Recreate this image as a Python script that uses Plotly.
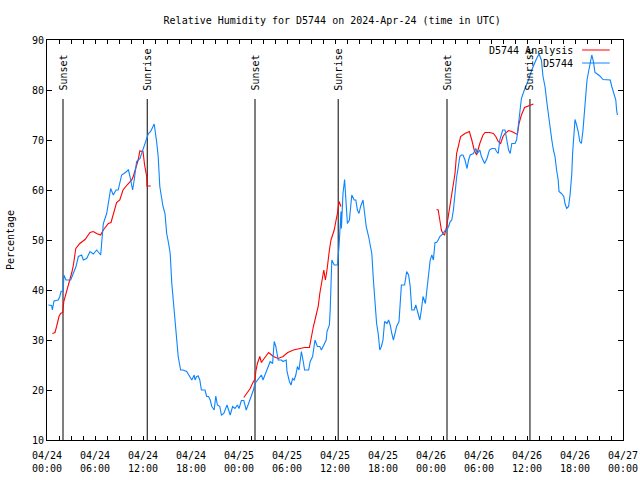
import plotly.graph_objects as go

# ---------------- data ----------------
# hours since 2024-04-24 00:00 UTC
obs_hours = [0.17, 0.58, 0.67, 0.875, 1.4, 1.6, 1.75, 2.04, 2.1, 2.375, 2.96, 3.3, 3.625, 3.92, 4.33, 4.54,
             4.96, 5.375, 5.79, 6.21, 6.54, 6.71, 6.83, 7.04, 7.46, 7.96, 8.29, 8.625, 8.9, 9.33, 9.96, 10.17,
             10.375, 10.7, 10.9, 11.2, 11.625, 12.0, 12.46, 12.67, 12.96, 13.4, 13.7, 13.9, 14.1, 14.3, 14.5,
             14.75, 14.96, 15.2, 15.4, 15.6, 15.8, 16.0, 16.2, 16.4, 16.7, 17.0, 17.46, 17.9, 18.1, 18.4, 18.5,
             18.7, 18.9, 19.1, 19.3, 19.75, 19.96, 20.2, 20.4, 20.6, 20.9, 21.1, 21.3, 21.6, 21.8, 22.1, 22.5,
             22.9, 23.2, 23.5, 23.8, 24.0, 24.3, 24.6, 24.9, 25.2, 25.4, 25.6, 25.8, 26.0, 26.2, 26.6, 26.8,
             27.0, 27.5, 27.9, 28.2, 28.4, 28.6, 28.9, 29.3, 29.5, 29.9, 30.0, 30.3, 30.5, 30.7, 30.9, 31.1,
             31.3, 31.5, 31.8, 32.0, 32.2, 32.7, 32.9, 33.2, 33.5, 33.8, 34.1, 34.3, 34.6, 34.9, 35.0, 35.3,
             35.4, 35.5, 35.6, 35.9, 36.3, 36.5, 36.6, 36.75, 36.8, 37.0, 37.2, 37.5, 37.55, 37.8, 38.1, 38.4,
             38.6, 38.8, 39.0, 39.2, 39.5, 39.6, 39.9, 40.2, 40.4, 40.6, 40.8, 41.0, 41.2, 41.4, 41.6, 41.8,
             42.0, 42.2, 42.5, 42.7, 42.9, 43.1, 43.3, 43.5, 43.7, 44.0, 44.2, 44.3, 44.7, 44.96, 45.2, 45.4,
             45.6, 45.9, 46.1, 46.4, 46.6, 46.8, 47.0, 47.3, 47.5, 47.7, 47.9, 48.1, 48.3, 48.5, 48.7, 48.9,
             49.1, 49.5, 49.7, 49.96, 50.2, 50.4, 50.6, 50.8, 51.0, 51.2, 51.4, 51.6, 51.8, 52.0, 52.25, 52.5,
             52.7, 52.9, 53.3, 53.6, 53.8, 54.1, 54.3, 54.5, 54.7, 55.0, 55.3, 55.6, 56.0, 56.2, 56.4, 56.6,
             56.96, 57.25, 57.5, 57.7, 57.9, 58.1, 58.5, 58.7, 58.9, 59.1, 59.3, 59.6, 59.96, 60.25, 60.6, 60.9,
             61.2, 61.5, 61.8, 62.0, 62.25, 62.5, 62.7, 62.9, 63.1, 63.3, 63.5, 63.7, 63.9, 64.0, 64.3, 64.6,
             64.75, 64.96, 65.2, 65.4, 65.6, 65.7, 65.9, 66.0, 66.2, 66.4, 66.6, 66.8, 67.0, 67.2, 67.5, 67.7,
             67.9, 68.1, 68.3, 68.5, 68.7, 69.1, 69.5, 70.4, 70.6, 70.9, 71.1, 71.2, 71.3]
obs_rh = [37.0, 36.9, 36.0, 37.8, 38.0, 38.7, 39.7, 39.8, 43.0, 42.0, 42.0, 43.3, 44.7, 46.7, 47.0, 46.0,
          46.3, 47.7, 47.2, 48.0, 47.3, 47.0, 49.3, 53.3, 55.3, 60.3, 59.0, 60.0, 60.0, 63.0, 63.7, 64.1,
          62.7, 60.0, 62.0, 65.7, 66.3, 68.0, 70.0, 71.3, 71.7, 73.2, 69.7, 66.7, 60.7, 58.7, 56.7,
          55.3, 51.3, 49.3, 47.3, 41.3, 38.0, 34.0, 30.7, 26.7, 24.0, 24.0, 23.7, 22.7, 22.0, 23.0, 22.0,
          22.7, 22.8, 22.0, 20.0, 20.0, 18.7, 18.7, 18.0, 16.7, 16.0, 18.8, 17.0, 16.7, 15.0, 15.3, 17.0,
          15.0, 16.7, 16.3, 17.0, 16.3, 17.9, 17.9, 16.0, 17.3, 18.1, 19.3, 20.0, 21.3, 21.7, 22.5, 23.0,
          22.0, 24.0, 25.7, 25.3, 29.7, 28.7, 26.0, 26.0, 25.7, 26.0, 23.7, 21.7, 21.0, 22.3, 22.0, 23.0,
          24.7, 24.0, 27.7, 26.0, 24.0, 24.0, 25.7, 26.7, 30.0, 28.7, 28.7, 28.0, 29.0, 30.0, 31.7, 33.0,
          36.0, 40.7, 46.0, 45.0, 45.0, 48.7, 53.0, 55.7, 52.3, 59.3, 62.1, 56.0, 53.3, 54.0, 59.0, 58.0,
          58.0, 56.0, 55.3, 56.7, 58.0, 56.7, 52.7, 50.7, 48.7, 47.3, 42.0, 38.0, 33.3, 31.3, 28.0, 28.7,
          30.0, 33.7, 33.3, 34.0, 33.0, 31.3, 30.0, 31.3, 32.7, 33.7, 39.3, 41.0, 41.0, 43.7, 43.0, 40.7,
          36.0, 36.0, 37.0, 35.3, 34.0, 36.0, 38.7, 37.3, 40.3, 44.0, 46.0, 47.0, 46.0, 49.5, 49.5, 50.0,
          50.7, 51.2, 51.8, 52.0, 52.7, 53.7, 54.0, 56.0, 59.5, 62.5, 64.5, 66.7, 67.0, 67.0, 66.0, 64.3,
          66.0, 67.0, 67.3, 68.3, 67.3, 68.0, 66.7, 66.0, 65.3, 66.3, 68.0, 68.3, 68.3, 67.7, 67.3, 70.0,
          72.0, 72.0, 70.0, 68.0, 67.3, 69.3, 69.3, 70.0, 72.7, 76.0, 78.3, 79.7, 81.0, 82.3, 84.0, 85.3,
          86.3, 87.2, 86.0, 82.7, 80.7, 77.3, 74.7, 71.7, 70.0, 68.0, 66.7, 64.0, 62.0, 59.7, 59.3, 58.7,
          57.3, 56.3, 56.7, 59.3, 63.3, 67.3, 73.0, 74.1, 73.0, 71.7, 69.7, 69.3, 72.0, 76.7, 82.0, 83.7,
          85.3, 87.0, 85.7, 83.5, 83.3, 82.8, 82.1, 82.0, 80.7, 79.0, 78.0, 76.0, 75.0]

# analysis series (None = gap between daily runs)
ana_hours = [0.67, 1.0, 1.2, 1.5, 1.7, 1.96, 2.1, 2.4, 2.7, 2.9, 3.1, 3.3, 3.6, 4.1, 4.75, 5.375, 5.79,
             6.2, 6.7, 7.04, 7.67, 8.0, 8.3, 8.7, 9.1, 9.5, 10.0, 10.6, 10.8, 11.2, 11.4, 11.6, 12.0, 12.2,
             12.46, 12.5, 12.96, None,
             24.6, 24.96, 25.4, 25.8, 26.0, 26.1, 26.3, 26.6, 26.8, 27.1, 27.7, 28.3, 28.9, 29.5, 30.1, 30.8,
             31.6, 32.2, 32.8, 32.96, 33.3, 33.6, 33.9, 34.1, 34.5, 34.6, 34.8, 35.0, 35.3, 35.5, 35.7, 35.9,
             36.1, 36.3, 36.5, 36.75, None,
             48.7, 48.9, 49.1, 49.3, 49.5, 49.7, 49.96, 50.2, 50.4, 50.6, 50.8, 51.0, 51.2, 51.4, 51.7, 52.25,
             52.8, 53.1, 53.4, 53.7, 53.9, 54.1, 54.5, 54.75, 55.3, 55.8, 56.1, 56.4, 56.7, 57.0, 57.25, 57.7,
             58.1, 58.5, 58.8, 59.0, 59.3, 59.7, 59.96, 60.4, 60.8]
ana_rh = [31.3, 31.5, 32.7, 34.7, 35.3, 35.5, 37.7, 39.3, 41.0, 42.3, 43.5, 45.0, 48.3, 49.3, 50.1, 51.5, 51.7,
          51.3, 51.0, 52.0, 53.3, 53.5, 55.3, 57.5, 58.0, 60.0, 61.0, 62.0, 62.8, 65.0, 66.0, 67.8, 67.7, 65.0,
          62.7, 60.8, 60.8, None,
          18.5, 19.3, 20.3, 21.7, 22.0, 23.7, 25.3, 26.7, 25.5, 26.2, 27.5, 26.7, 26.3, 26.7, 27.5, 28.0,
          28.3, 28.5, 28.5, 30.0, 32.7, 34.7, 36.7, 39.3, 43.0, 44.0, 42.0, 44.0, 48.0, 50.0, 51.0, 52.0,
          53.7, 55.3, 57.7, 56.7, None,
          56.1, 56.0, 54.0, 52.0, 51.2, 51.0, 52.7, 55.3, 57.3, 59.7, 61.3, 63.3, 67.3, 68.7, 70.7, 71.3,
          71.7, 70.0, 68.0, 67.0, 68.3, 69.3, 71.0, 71.5, 71.5, 71.3, 70.7, 69.7, 69.3, 70.7, 71.3, 71.9,
          71.7, 71.3, 71.1, 73.3, 75.0, 76.5, 76.7, 77.0, 77.2]

sun_labels = ["Sunset", "Sunrise", "Sunset", "Sunrise", "Sunset", "Sunrise"]
sun_hours = [2.0, 12.53, 26.0, 36.4, 50.0, 60.37]

tick_hours = [0, 6, 12, 18, 24, 30, 36, 42, 48, 54, 60, 66, 72]
tick_labels = ["04/24<br>00:00", "04/24<br>06:00", "04/24<br>12:00", "04/24<br>18:00",
               "04/25<br>00:00", "04/25<br>06:00", "04/25<br>12:00", "04/25<br>18:00",
               "04/26<br>00:00", "04/26<br>06:00", "04/26<br>12:00", "04/26<br>18:00",
               "04/27<br>00:00"]

series_names = ["D5744 Analysis", "D5744"]
series_colors = ["#ff0000", "#0a84ff"]

FONT = "DejaVu Sans Mono"

# ---------------- figure ----------------
fig = go.Figure()
fig.add_trace(go.Scatter(x=ana_hours, y=ana_rh, mode="lines", name=series_names[0],
                         line=dict(color=series_colors[0], width=1.1), connectgaps=False))
fig.add_trace(go.Scatter(x=obs_hours, y=obs_rh, mode="lines", name=series_names[1],
                         line=dict(color=series_colors[1], width=1.1)))

for lab, h in zip(sun_labels, sun_hours):
    fig.add_shape(type="line", xref="x", yref="y", x0=h, x1=h, y0=10, y1=78.2,
                  line=dict(color="black", width=1), layer="below")
    fig.add_annotation(x=h, y=79.5, xref="x", yref="y", text=lab, textangle=-90,
                       showarrow=False, xanchor="center", yanchor="bottom",
                       font=dict(family=FONT, size=10, color="black"))

# manual gnuplot-style key (text left of line sample)
key_y = [0.975, 0.9425]
for name, col, ky in zip(series_names, series_colors, key_y):
    fig.add_annotation(x=0.917, y=ky, xref="paper", yref="paper", text=name, showarrow=False,
                       xanchor="right", yanchor="middle", font=dict(family=FONT, size=10, color="black"))
    fig.add_shape(type="line", xref="paper", yref="paper", x0=0.929, x1=0.977, y0=ky, y1=ky,
                  line=dict(color=col, width=1))

fig.update_layout(
    width=640, height=480,
    margin=dict(l=47, r=17, t=40, b=40, autoexpand=False),
    paper_bgcolor="white", plot_bgcolor="white",
    showlegend=False,
    title=dict(text="Relative Humidity for D5744 on 2024-Apr-24 (time in UTC)",
               x=0.519, xanchor="center", y=0.958, yanchor="middle",
               font=dict(family=FONT, size=10, color="black")),
    font=dict(family=FONT, size=10, color="black"),
)
fig.update_xaxes(range=[0, 72], tickmode="array", tickvals=tick_hours, ticktext=tick_labels,
                 showgrid=False, zeroline=False, showline=True, linecolor="black", linewidth=1,
                 mirror="ticks", ticks="inside", ticklen=4, tickcolor="black",
                 minor=dict(tickmode="linear", tick0=0, dtick=1.5, ticks="inside", ticklen=4,
                            tickcolor="black", showgrid=False),
                 ticklabelstandoff=6,
                 tickfont=dict(family=FONT, size=10), automargin=False)
fig.update_yaxes(range=[10, 90], tickmode="linear", tick0=10, dtick=10,
                 showgrid=False, zeroline=False, showline=True, linecolor="black", linewidth=1,
                 mirror="ticks", ticks="inside", ticklen=5, tickcolor="black",
                 tickfont=dict(family=FONT, size=10), automargin=False,
                 title=dict(text="Percentage", font=dict(family=FONT, size=10), standoff=15))

fig.write_html("out.html", config={"displayModeBar": False},
               post_script="document.body.style.margin='0';")
